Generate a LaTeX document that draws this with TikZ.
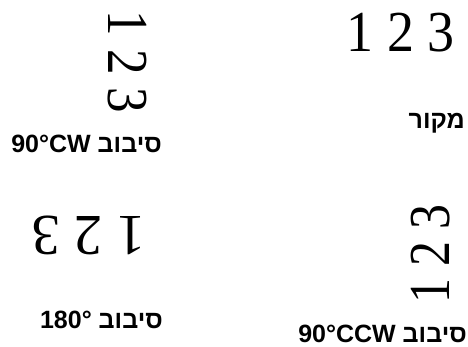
\documentclass[tikz,border=0pt]{standalone}
\usepackage{fontspec}
\setmainfont{Liberation Serif}
\newfontfamily\hebfont[Script=Hebrew]{Liberation Sans}
\TeXXeTstate=1
\tikzset{
  digits/.style={inner sep=0pt, font=\fontsize{58}{70}\selectfont},
  lbl/.style={inner sep=0pt, anchor=base east, font=\hebfont\bfseries\fontsize{25}{30}\selectfont}
}
\begin{document}
\begin{tikzpicture}[x=1pt,y=1pt]
\useasboundingbox (0,0) rectangle (468,347);
\node[digits, xscale=0.93] (src) at (400.5,314.5) {1 2 3};
\node[digits, rotate=-90, xscale=0.88] (cw) at (127.5,285) {1 2 3};
\node[digits, rotate=180, xscale=0.98] (half) at (88.5,112) {1 2 3};
\node[digits, rotate=90, xscale=0.86] (ccw) at (430.5,93) {1 2 3};
\node[lbl] (lsrc) at (465,218) {\beginR מקור\endR};
\node[lbl] (lcw) at (162,194) {\beginR סיבוב \beginL 90°CW\endL\endR};
\node[lbl] (lhalf) at (163,18) {\beginR סיבוב \beginL 180°\endL\endR};
\node[lbl] (lccw) at (467,4) {\beginR סיבוב \beginL 90°CCW\endL\endR};
\end{tikzpicture}
\end{document}
